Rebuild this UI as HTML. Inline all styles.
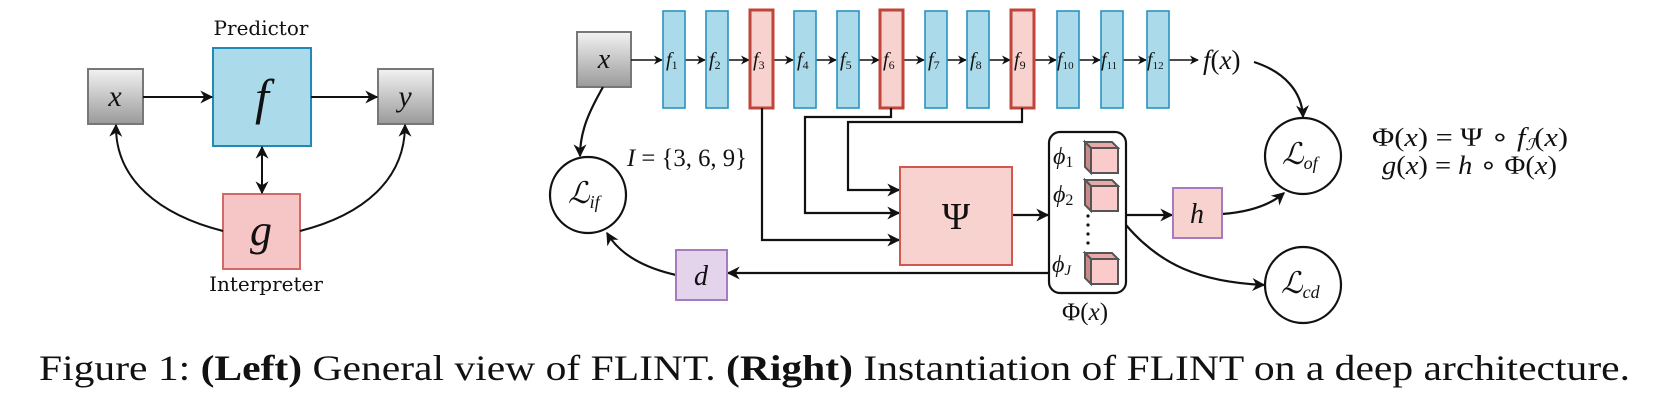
<!DOCTYPE html>
<html><head><meta charset="utf-8"><style>
html,body{margin:0;padding:0;background:#fff;}
svg{display:block;}
</style></head><body>
<svg width="1668" height="400" viewBox="0 0 1668 400" xmlns="http://www.w3.org/2000/svg" font-family="'Liberation Serif','Times New Roman',Times,serif">
<defs>
<linearGradient id="gr" x1="0" y1="0" x2="0" y2="1"><stop offset="0" stop-color="#f2f2f2"/><stop offset="1" stop-color="#9a9a9a"/></linearGradient>
<marker id="a" viewBox="0 0 10 10" refX="9" refY="5" markerWidth="9" markerHeight="9" markerUnits="userSpaceOnUse" orient="auto-start-reverse"><path d="M0,0 L10,5 L0,10 L3,5 z" fill="#111"/></marker>
<marker id="b" viewBox="0 0 10 10" refX="9" refY="5" markerWidth="13" markerHeight="13" markerUnits="userSpaceOnUse" orient="auto-start-reverse"><path d="M0,0 L10,5 L0,10 L3,5 z" fill="#111"/></marker>
<g id="cube">
<path d="M0,0 L27,0 L33,6 L6,6 z" fill="#e8a9a9" stroke="#555" stroke-width="2"/>
<path d="M0,0 L6,6 L6,31 L0,25 z" fill="#c98a8a" stroke="#555" stroke-width="2"/>
<rect x="6" y="6" width="27" height="25" fill="#fbcaca" stroke="#555" stroke-width="2"/>
</g>
</defs>

<!-- LEFT -->
<text x="261" y="35" text-anchor="middle" font-family="'DejaVu Serif',serif" font-size="20" fill="#111">Predictor</text>
<rect x="88" y="69" width="55" height="55" fill="url(#gr)" stroke="#777" stroke-width="2"/>
<text x="115" y="106" font-style="italic" font-size="30" text-anchor="middle" fill="#111">x</text>
<rect x="213" y="48" width="98" height="98" fill="#abdbeb" stroke="#2189b5" stroke-width="2"/>
<text x="262" y="114" font-style="italic" font-size="50" text-anchor="middle" fill="#111">f</text>
<rect x="378" y="69" width="55" height="55" fill="url(#gr)" stroke="#777" stroke-width="2"/>
<text x="405" y="106" font-style="italic" font-size="30" text-anchor="middle" fill="#111">y</text>
<rect x="223" y="194" width="77" height="75" fill="#f6c6c6" stroke="#d06a68" stroke-width="2"/>
<text x="261" y="245" font-style="italic" font-size="44" text-anchor="middle" fill="#111">g</text>
<text x="266" y="291" text-anchor="middle" font-family="'DejaVu Serif',serif" font-size="20" fill="#111">Interpreter</text>
<g stroke="#111" stroke-width="2" fill="none">
<path d="M143,97 L212,97" marker-end="url(#b)"/>
<path d="M311,97 L377,97" marker-end="url(#b)"/>
<path d="M262,147 L262,193" marker-start="url(#b)" marker-end="url(#b)"/>
<path d="M223,231 C160,215 115,180 116,125" marker-end="url(#b)"/>
<path d="M300,231 C363,215 405,180 405,125" marker-end="url(#b)"/>
</g>

<!-- RIGHT -->
<rect x="577" y="32" width="54" height="55" fill="url(#gr)" stroke="#777" stroke-width="2"/>
<text x="604" y="68" font-style="italic" font-size="28" text-anchor="middle" fill="#111">x</text>
<g stroke="#111" stroke-width="1.6" fill="none">
<path d="M631,60 L662,60" marker-end="url(#a)"/>
<path d="M685,60 L705,60" marker-end="url(#a)"/>
<path d="M729,60 L749,60" marker-end="url(#a)"/>
<path d="M773,60 L793,60" marker-end="url(#a)"/>
<path d="M816,60 L836,60" marker-end="url(#a)"/>
<path d="M859,60 L879,60" marker-end="url(#a)"/>
<path d="M903,60 L924,60" marker-end="url(#a)"/>
<path d="M947,60 L966,60" marker-end="url(#a)"/>
<path d="M989,60 L1010,60" marker-end="url(#a)"/>
<path d="M1034,60 L1056,60" marker-end="url(#a)"/>
<path d="M1079,60 L1100,60" marker-end="url(#a)"/>
<path d="M1123,60 L1146,60" marker-end="url(#a)"/>
<path d="M1169,60 L1198,60" marker-end="url(#a)"/>
</g>
<g stroke-width="1.6">
<rect x="663" y="11" width="22" height="97" fill="#abdbeb" stroke="#2a93bf"/>
<rect x="706" y="11" width="22" height="97" fill="#abdbeb" stroke="#2a93bf"/>
<rect x="750" y="10" width="23" height="98" fill="#f8d2cf" stroke="#c0443a" stroke-width="3"/>
<rect x="794" y="11" width="22" height="97" fill="#abdbeb" stroke="#2a93bf"/>
<rect x="837" y="11" width="22" height="97" fill="#abdbeb" stroke="#2a93bf"/>
<rect x="880" y="10" width="23" height="98" fill="#f8d2cf" stroke="#c0443a" stroke-width="3"/>
<rect x="925" y="11" width="22" height="97" fill="#abdbeb" stroke="#2a93bf"/>
<rect x="967" y="11" width="22" height="97" fill="#abdbeb" stroke="#2a93bf"/>
<rect x="1011" y="10" width="23" height="98" fill="#f8d2cf" stroke="#c0443a" stroke-width="3"/>
<rect x="1057" y="11" width="22" height="97" fill="#abdbeb" stroke="#2a93bf"/>
<rect x="1101" y="11" width="22" height="97" fill="#abdbeb" stroke="#2a93bf"/>
<rect x="1147" y="11" width="22" height="97" fill="#abdbeb" stroke="#2a93bf"/>
</g>
<g font-style="italic" font-size="20" fill="#111">
<text x="666" y="66">f<tspan font-style="normal" font-size="12" dy="3">1</tspan></text>
<text x="709" y="66">f<tspan font-style="normal" font-size="12" dy="3">2</tspan></text>
<text x="753" y="66">f<tspan font-style="normal" font-size="12" dy="3">3</tspan></text>
<text x="797" y="66">f<tspan font-style="normal" font-size="12" dy="3">4</tspan></text>
<text x="840" y="66">f<tspan font-style="normal" font-size="12" dy="3">5</tspan></text>
<text x="883" y="66">f<tspan font-style="normal" font-size="12" dy="3">6</tspan></text>
<text x="928" y="66">f<tspan font-style="normal" font-size="12" dy="3">7</tspan></text>
<text x="970" y="66">f<tspan font-style="normal" font-size="12" dy="3">8</tspan></text>
<text x="1014" y="66">f<tspan font-style="normal" font-size="12" dy="3">9</tspan></text>
<text x="1057" y="66">f<tspan font-style="normal" font-size="11" dy="3">10</tspan></text>
<text x="1101" y="66">f<tspan font-style="normal" font-size="11" dy="3">11</tspan></text>
<text x="1147" y="66">f<tspan font-style="normal" font-size="11" dy="3">12</tspan></text>
</g>
<text x="1203" y="69" font-style="italic" font-size="27" fill="#111">f<tspan font-style="normal">(</tspan>x<tspan font-style="normal">)</tspan></text>

<g stroke="#111" stroke-width="2.2" fill="none">
<path d="M762,108 L762,240 L899,240" marker-end="url(#b)"/>
<path d="M891,108 L891,117 L805,117 L805,213 L899,213" marker-end="url(#b)"/>
<path d="M1022,108 L1022,122 L848,122 L848,190 L899,190" marker-end="url(#b)"/>
<path d="M1012,215 L1048,215" marker-end="url(#b)"/>
<path d="M1126,215 L1172,215" marker-end="url(#b)"/>
<path d="M1049,273 L728,273" marker-end="url(#b)"/>
<path d="M603,87 C590,110 580,130 580,156" marker-end="url(#b)"/>
<path d="M676,275 C645,268 620,255 607,233" marker-end="url(#b)"/>
<path d="M1222,214 C1250,212 1270,205 1284,193" marker-end="url(#b)"/>
<path d="M1254,62 C1285,72 1302,92 1303,117" marker-end="url(#b)"/>
<path d="M1126,225 C1160,265 1200,282 1264,285" marker-end="url(#b)"/>
</g>

<rect x="900" y="167" width="112" height="98" fill="#f8d2cf" stroke="#d0584c" stroke-width="2"/>
<text x="956" y="229" font-size="38" text-anchor="middle" fill="#111">Ψ</text>

<rect x="1049" y="132" width="77" height="161" rx="11" fill="#fff" stroke="#111" stroke-width="2.2"/>
<use href="#cube" x="1085" y="142"/>
<use href="#cube" x="1085" y="180"/>
<use href="#cube" x="1085" y="253"/>
<g fill="#111"><circle cx="1088" cy="216" r="1.6"/><circle cx="1088" cy="225" r="1.6"/><circle cx="1088" cy="234" r="1.6"/><circle cx="1088" cy="243" r="1.6"/></g>
<text x="1053" y="164" font-style="italic" font-size="24" fill="#111">ϕ<tspan font-style="normal" font-size="16" dy="3">1</tspan></text>
<text x="1053" y="202" font-style="italic" font-size="24" fill="#111">ϕ<tspan font-style="normal" font-size="16" dy="3">2</tspan></text>
<text x="1052" y="272" font-style="italic" font-size="24" fill="#111">ϕ<tspan font-size="15" dy="3">J</tspan></text>
<text x="1062" y="320" font-size="25" fill="#111">Φ(<tspan font-style="italic">x</tspan>)</text>

<rect x="1173" y="188" width="49" height="50" fill="#f8d2cf" stroke="#a77bc0" stroke-width="2"/>
<text x="1197" y="223" font-style="italic" font-size="28" text-anchor="middle" fill="#111">h</text>
<rect x="676" y="250" width="51" height="50" fill="#e3d3eb" stroke="#a77bc0" stroke-width="2"/>
<text x="701" y="285" font-style="italic" font-size="28" text-anchor="middle" fill="#111">d</text>

<g fill="#fff" stroke="#111" stroke-width="2.2">
<circle cx="588" cy="195" r="38"/>
<circle cx="1303" cy="156" r="38"/>
<circle cx="1303" cy="285" r="38"/>
</g>
<text x="568" y="203" font-style="italic" font-size="30" fill="#111">ℒ<tspan font-size="18" dy="5">if</tspan></text>
<text x="1282" y="164" font-style="italic" font-size="30" fill="#111">ℒ<tspan font-size="18" dy="5">of</tspan></text>
<text x="1281" y="293" font-style="italic" font-size="30" fill="#111">ℒ<tspan font-size="18" dy="5">cd</tspan></text>

<text x="627" y="166" font-size="25" fill="#111" textLength="120" lengthAdjust="spacingAndGlyphs"><tspan font-style="italic">I</tspan> = {3, 6, 9}</text>
<text x="1372" y="146" font-size="26" fill="#111" textLength="196" lengthAdjust="spacingAndGlyphs">Φ(<tspan font-style="italic">x</tspan>) = Ψ ∘ <tspan font-style="italic">f</tspan><tspan font-style="italic" font-size="16" dy="4">ℐ</tspan><tspan dy="-4">(</tspan><tspan font-style="italic">x</tspan>)</text>
<text x="1382" y="174" font-size="26" fill="#111" textLength="175" lengthAdjust="spacingAndGlyphs"><tspan font-style="italic">g</tspan>(<tspan font-style="italic">x</tspan>) = <tspan font-style="italic">h</tspan> ∘ Φ(<tspan font-style="italic">x</tspan>)</text>

<text x="39" y="380" font-size="36" fill="#111" textLength="1591" lengthAdjust="spacingAndGlyphs">Figure 1: <tspan font-weight="bold">(Left)</tspan> General view of FLINT. <tspan font-weight="bold">(Right)</tspan> Instantiation of FLINT on a deep architecture.</text>
</svg>
</body></html>
